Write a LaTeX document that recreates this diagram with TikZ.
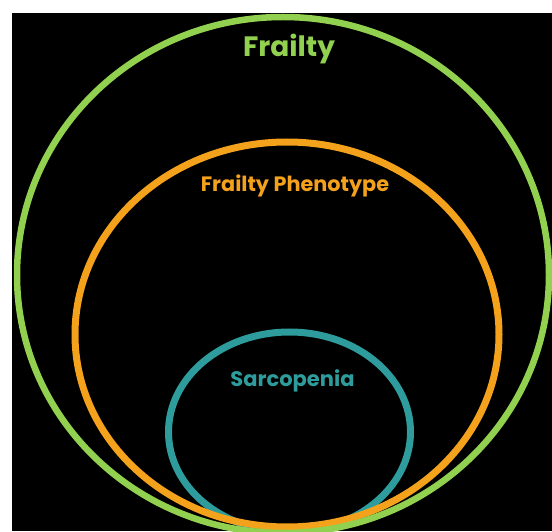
\documentclass[tikz,border=0pt]{standalone}
\usepackage{fontspec}
\setmainfont{Poppins}
\usetikzlibrary{positioning}
\definecolor{frailgreen}{HTML}{92D050}
\definecolor{phenoorange}{HTML}{F4A11C}
\definecolor{sarcoteal}{HTML}{2E9C9C}

\begin{document}
\begin{tikzpicture}[x=1pt, y=1pt,
            ring line/.style={line width=7pt},
            ring label/.style={inner sep=0pt, anchor=base},
        ]

        % Page and black panel
        \useasboundingbox (0,0) rectangle (552,531);
        \fill[white] (0,0) rectangle (552,531);
        \fill[black] (12,0) rectangle (552,518);

        \begin{scope}
            \clip (12,0) rectangle (552,518);

            % Nested ellipses
            \draw[ring line, sarcoteal] (289.5,99) ellipse [x radius=121, y radius=100];
            \draw[ring line, phenoorange] (287,196.5) ellipse [x radius=212, y radius=192.5];
            \draw[ring line, frailgreen, line width=6.5pt] (283,256) ellipse [x radius=266, y radius=258];
        \end{scope}

        % Labels
        \node[ring label, text=frailgreen, font=\fontsize{28}{32}\selectfont\bfseries] (frailty) at (289,474) {Frailty};
        \node[ring label, text=phenoorange, font=\fontsize{20.8}{24}\selectfont\bfseries] (phenotype) at (295,339) {Frailty Phenotype};
        \node[ring label, text=sarcoteal, font=\fontsize{21}{24}\selectfont\bfseries] (sarcopenia) at (292.5,145) {Sarcopenia};

        \end{tikzpicture}
\end{document}
